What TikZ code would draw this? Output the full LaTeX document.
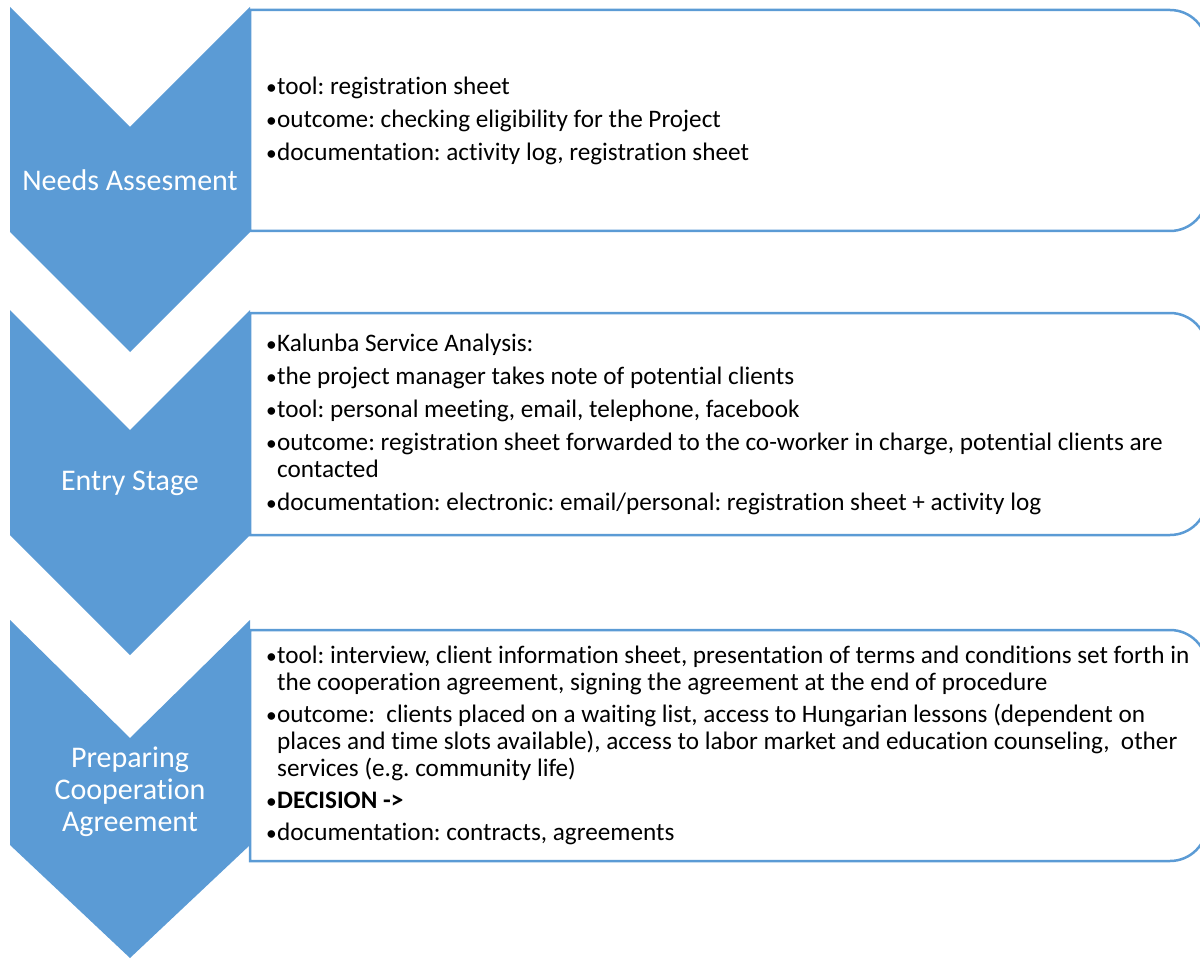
\documentclass[tikz,border=0pt]{standalone}
\usepackage{fontspec}
\setmainfont{Carlito}[Ligatures={NoCommon}]
\definecolor{obl}{HTML}{5B9BD5}
\newcommand{\itm}{\makebox[11pt][l]{\scalebox{0.85}{•}}}
\newcommand{\ctn}{\hspace*{11pt}}
\begin{document}
\frenchspacing
\begin{tikzpicture}[x=1pt,y=-1pt,
  chev/.style={fill=obl,draw=none},
  infobox/.style={draw=obl,line width=2.5pt,fill=white},
  boxtext/.style={anchor=west,inner sep=0pt,align=left,font=\frenchspacing\fontsize{25.2}{27}\selectfont},
  chevtext/.style={text=white,align=center,inner sep=0pt,font=\fontsize{30}{32}\selectfont}]
\useasboundingbox (0,0) rectangle (1200,960);
\clip (0,0) rectangle (1200,960);
% boxes
\draw[infobox] (250,10) -- (1170,10) arc[start angle=90,end angle=0,radius=37pt]
  -- (1207,194) arc[start angle=0,end angle=-90,radius=37pt] -- (250,231) -- cycle;
\draw[infobox] (250,313) -- (1170,313) arc[start angle=90,end angle=0,radius=37pt]
  -- (1207,498) arc[start angle=0,end angle=-90,radius=37pt] -- (250,535) -- cycle;
\draw[infobox] (250,630) -- (1170,630) arc[start angle=90,end angle=0,radius=37pt]
  -- (1207,824) arc[start angle=0,end angle=-90,radius=37pt] -- (250,861) -- cycle;
% chevrons
\fill[chev] (10,7) -- (130,127) -- (250,7) -- (250,232) -- (130,352) -- (10,232) -- cycle;
\fill[chev] (10,310) -- (130,430) -- (250,310) -- (250,535) -- (130,655) -- (10,535) -- cycle;
\fill[chev] (10,620) -- (130,738) -- (250,620) -- (250,845) -- (130,958) -- (10,845) -- cycle;
\node[chevtext] (c1) at (130,180) {Needs Assesment};
\node[chevtext] (c2) at (130,483) {Entry Stage};
\node[chevtext] (c3) at (130,792) {Preparing\\Cooperation\\Agreement};
% texts
\node[boxtext] (t1) at (266,120.5) {\itm tool: registration sheet\\[6pt]
\itm outcome: checking eligibility for the Project\\[6pt]
\itm documentation: activity log, registration sheet};
\node[boxtext] (t2) at (266,424) {\itm Kalunba Service Analysis:\\[6pt]
\itm the project manager takes note of potential clients\\[6pt]
\itm tool: personal meeting, email, telephone, facebook\\[6pt]
\itm outcome: registration sheet forwarded to the co-worker in charge, potential clients are\\
\ctn contacted\\[6pt]
\itm documentation: electronic: email/personal: registration sheet + activity log};
\node[boxtext] (t3) at (266,745) {\itm tool: interview, client information sheet, presentation of terms and conditions set forth in\\
\ctn the cooperation agreement, signing the agreement at the end of procedure\\[5pt]
\itm outcome:\ \ clients placed on a waiting list, access to Hungarian lessons (dependent on\\
\ctn places and time slots available), access to labor market and education counseling,\ \ other\\
\ctn services (e.g. community life)\\[5pt]
\itm \textbf{DECISION ->}\\[5pt]
\itm documentation: contracts, agreements};
\end{tikzpicture}
\end{document}
